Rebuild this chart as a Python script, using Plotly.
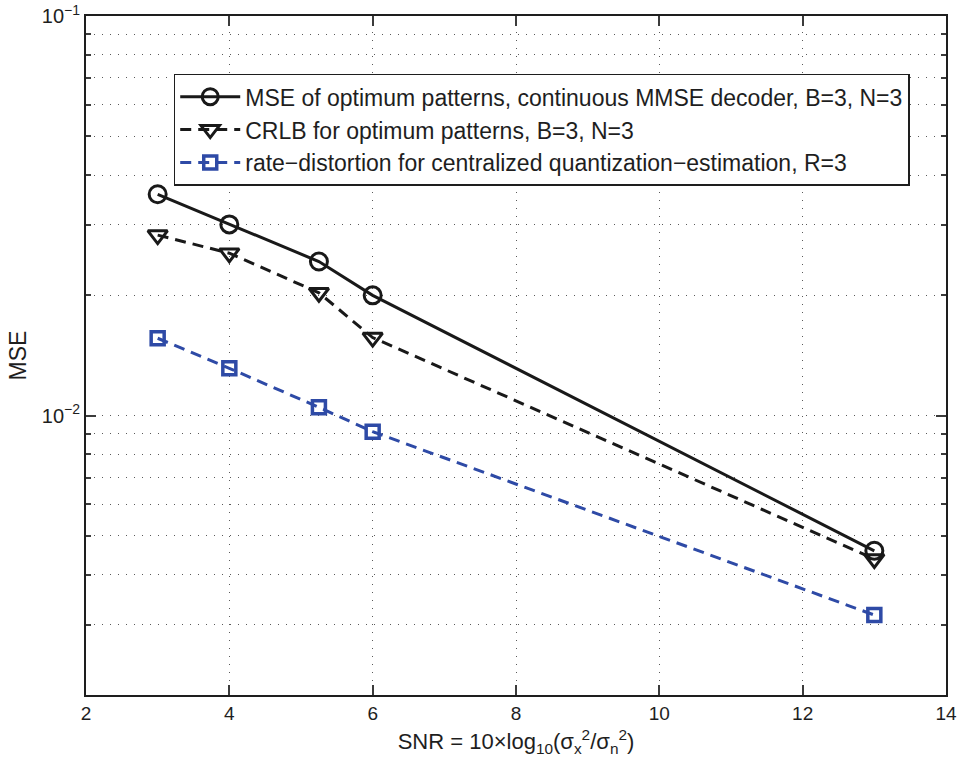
import plotly.graph_objects as go

snr = [3, 4, 5.25, 6, 13]
mse_opt = [0.0358, 0.0301, 0.0243, 0.0200, 0.00459]
crlb = [0.0283, 0.0255, 0.0203, 0.01568, 0.00438]
rate_dist = [0.01562, 0.01314, 0.01049, 0.00912, 0.00317]

names = [
    "MSE of optimum patterns, continuous MMSE decoder, B=3, N=3",
    "CRLB for optimum patterns, B=3, N=3",
    "rate\u2212distortion for centralized quantization\u2212estimation, R=3",
]
x_ticks = [2, 4, 6, 8, 10, 12, 14]
y_ticks = [0.01, 0.1]
y_ticktext = ["10<sup>\u22122</sup>", "10<sup>\u22121</sup>"]

BLUE = "rgb(46,74,166)"
BLACK = "rgb(25,25,25)"
FONT = "Liberation Sans, Arial, sans-serif"

fig = go.Figure()
fig.add_trace(go.Scatter(
    x=snr, y=mse_opt, name=names[0], mode="lines+markers",
    line=dict(color=BLACK, width=3),
    marker=dict(symbol="circle-open", size=17, color=BLACK, line=dict(width=3, color=BLACK)),
))
fig.add_trace(go.Scatter(
    x=snr, y=crlb, name=names[1], mode="lines+markers",
    line=dict(color=BLACK, width=3, dash="11px,7px"),
    marker=dict(symbol="triangle-down-open", size=17, color=BLACK, line=dict(width=3, color=BLACK)),
))
fig.add_trace(go.Scatter(
    x=snr, y=rate_dist, name=names[2], mode="lines+markers",
    line=dict(color=BLUE, width=3, dash="11px,7px"),
    marker=dict(symbol="square-open", size=13, color=BLUE, line=dict(width=3.5, color=BLUE)),
))

grid_dash = "1px,7px"
grid_col = "rgb(90,90,90)"

fig.update_layout(
    width=960, height=772,
    margin=dict(l=86, r=14, t=16, b=77),
    paper_bgcolor="white", plot_bgcolor="white",
    font=dict(family=FONT, size=18, color="rgb(30,30,30)"),
    showlegend=True,
    legend=dict(
        x=0.102, y=0.915, xanchor="left", yanchor="top",
        bgcolor="white", bordercolor="rgb(30,30,30)", borderwidth=1.5,
        font=dict(size=23, family=FONT, color="rgb(30,30,30)"),
        itemwidth=60, tracegroupgap=0,
    ),
    xaxis=dict(
        range=[2, 14], tickvals=x_ticks, ticks="inside", ticklen=10, tickwidth=1.5,
        tickcolor="rgb(60,60,60)", automargin=False,
        showline=True, linecolor="rgb(30,30,30)", linewidth=2, mirror="ticks",
        showgrid=True, gridcolor=grid_col, gridwidth=1, griddash=grid_dash,
        zeroline=False, tickfont=dict(size=19),
        title=dict(text="SNR = 10\u00d7log<sub>10</sub>(\u03c3<sub>x</sub><sup>2</sup>/\u03c3<sub>n</sub><sup>2</sup>)",
                   font=dict(size=22), standoff=11),
    ),
    yaxis=dict(
        type="log", range=[-2.69897, -1], tickmode="array", tickvals=y_ticks, ticktext=y_ticktext,
        ticks="inside", ticklen=10, tickwidth=1.5, tickcolor="rgb(60,60,60)", automargin=False,
        showline=True, linecolor="rgb(30,30,30)", linewidth=2, mirror="ticks",
        showgrid=True, gridcolor=grid_col, gridwidth=1, griddash=grid_dash,
        zeroline=False, tickfont=dict(size=20),
        minor=dict(dtick="D1", ticks="inside", ticklen=5, tickcolor="rgb(60,60,60)",
                   showgrid=True, gridcolor=grid_col, gridwidth=1, griddash=grid_dash),
        title=dict(text="MSE", font=dict(size=23), standoff=9),
    ),
)

fig.write_html("out.html", config={"displayModeBar": False})

# remove the default body margin so the figure sits at the window's top-left corner
with open("out.html", "r", encoding="utf-8") as f:
    html = f.read()
html = html.replace("<head>", "<head><style>html,body{margin:0;padding:0;overflow:hidden;}</style>", 1)
with open("out.html", "w", encoding="utf-8") as f:
    f.write(html)
